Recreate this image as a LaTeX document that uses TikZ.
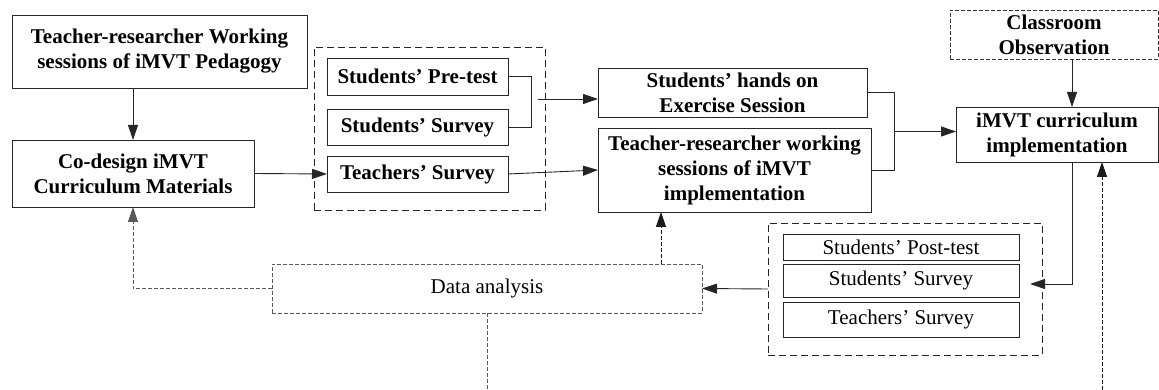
\documentclass[tikz,border=0pt]{standalone}
\usepackage{fontspec}
\setmainfont{Liberation Serif}
\usetikzlibrary{arrows.meta}
\begin{document}
\begin{tikzpicture}[x=1pt,y=-1pt,
  every node/.style={inner sep=0pt, outer sep=0pt, align=center},
  base/.style={draw=black!85, line width=0.9pt},
  boldbox/.style={base, font=\fontsize{21}{25}\selectfont\bfseries},
  plainbox/.style={base, font=\fontsize{21}{25}\selectfont},
  group/.style={draw=black!85, line width=0.9pt, dash pattern=on 7pt off 4pt},
  softbox/.style={draw=black!65, line width=0.9pt, dash pattern=on 4pt off 2pt,
                  font=\fontsize{21}{25}\selectfont},
  tip/.style={-{Triangle[length=15pt,width=10pt]}},
  link/.style={base, tip},
  softlink/.style={draw=black!65, line width=0.9pt, dash pattern=on 4pt off 2pt},
  darklink/.style={draw=black!90, line width=0.9pt, dash pattern=on 4pt off 2pt},
]
\useasboundingbox (0,0) rectangle (1159,390);

% left column
\node[boldbox, minimum width=295pt, minimum height=73pt] (box1) at (159.5,51.5)
  {Teacher-researcher Working\\sessions of iMVT Pedagogy};
\node[boldbox, minimum width=242pt, minimum height=67pt] (box2) at (133,173.5)
  {Co-design iMVT\\Curriculum Materials};

% pre-implementation instruments
\node[group, minimum width=231pt, minimum height=163pt] (grp1) at (429.5,128.5) {};
\node[boldbox, minimum width=181pt, minimum height=37pt] (pre) at (417.5,76.5)
  {Students’ Pre-test};
\node[boldbox, minimum width=181pt, minimum height=36pt] (ssurv) at (417.5,127)
  {Students’ Survey};
\node[boldbox, minimum width=181pt, minimum height=36pt] (tsurv) at (417.5,174)
  {Teachers’ Survey};

% sessions
\node[boldbox, minimum width=269pt, minimum height=49pt] (hands) at (732.5,92.5)
  {Students’ hands on\\Exercise Session};
\node[boldbox, minimum width=273pt, minimum height=84pt] (trw) at (734.5,170)
  {Teacher-researcher working\\sessions of iMVT\\implementation};

% implementation
\node[softbox, draw=black!80, font=\fontsize{21}{25}\selectfont\bfseries,
      minimum width=208pt, minimum height=49pt] (obs) at (1054,34.5)
  {Classroom\\Observation};
\node[boldbox, minimum width=202pt, minimum height=55pt] (imvt) at (1057,134.5)
  {iMVT curriculum\\implementation};

% post-implementation instruments
\node[group, minimum width=274pt, minimum height=132pt] (grp2) at (905,289) {};
\node[plainbox, minimum width=236pt, minimum height=26pt] (post) at (901,247)
  {Students’ Post-test};
\node[plainbox, minimum width=236pt, minimum height=33pt] (ssurv2) at (901,280.5)
  {Students’ Survey};
\node[plainbox, minimum width=236pt, minimum height=35pt] (tsurv2) at (901,319.5)
  {Teachers’ Survey};

% analysis
\node[softbox, minimum width=430pt, minimum height=49pt] (da) at (487,288.5)
  {Data analysis};

% connectors
\draw[link] (box1.south -| box2.north) -- (box2.north);
\draw[link] (box2.east) -- (tsurv.west);
\draw[base] (pre.east) -- ++(23,0) |- (ssurv.east);
\coordinate (j1) at (538,99);
\draw[link] (j1) -- (j1 -| hands.west);
\draw[link] (tsurv.east) -- (trw.west);
\draw[base] (hands.east) -- ++(27,0) |- (trw.east);
\coordinate (j2) at (894,131.5);
\draw[link] (j2) -- (j2 -| imvt.west);
\coordinate (tap) at (1072,0);
\draw[link] (tap |- obs.south) -- (tap |- imvt.north);
\coordinate (g2in) at (1030,284);
\draw[link] (tap |- imvt.south) |- (g2in);
\coordinate (rfoot) at (1102,390);
\draw[darklink, tip] (rfoot) -- (rfoot |- imvt.south);
\draw[link] (grp2.west) -- (da.east);
\coordinate (up) at (661,0);
\draw[darklink, tip] (up |- da.north) -- (up |- trw.south);
\draw[softlink, tip] (da.west) -| (box2.south);
\coordinate (dfoot) at (487,390);
\draw[softlink] (da.south) -- (dfoot);
\end{tikzpicture}
\end{document}
